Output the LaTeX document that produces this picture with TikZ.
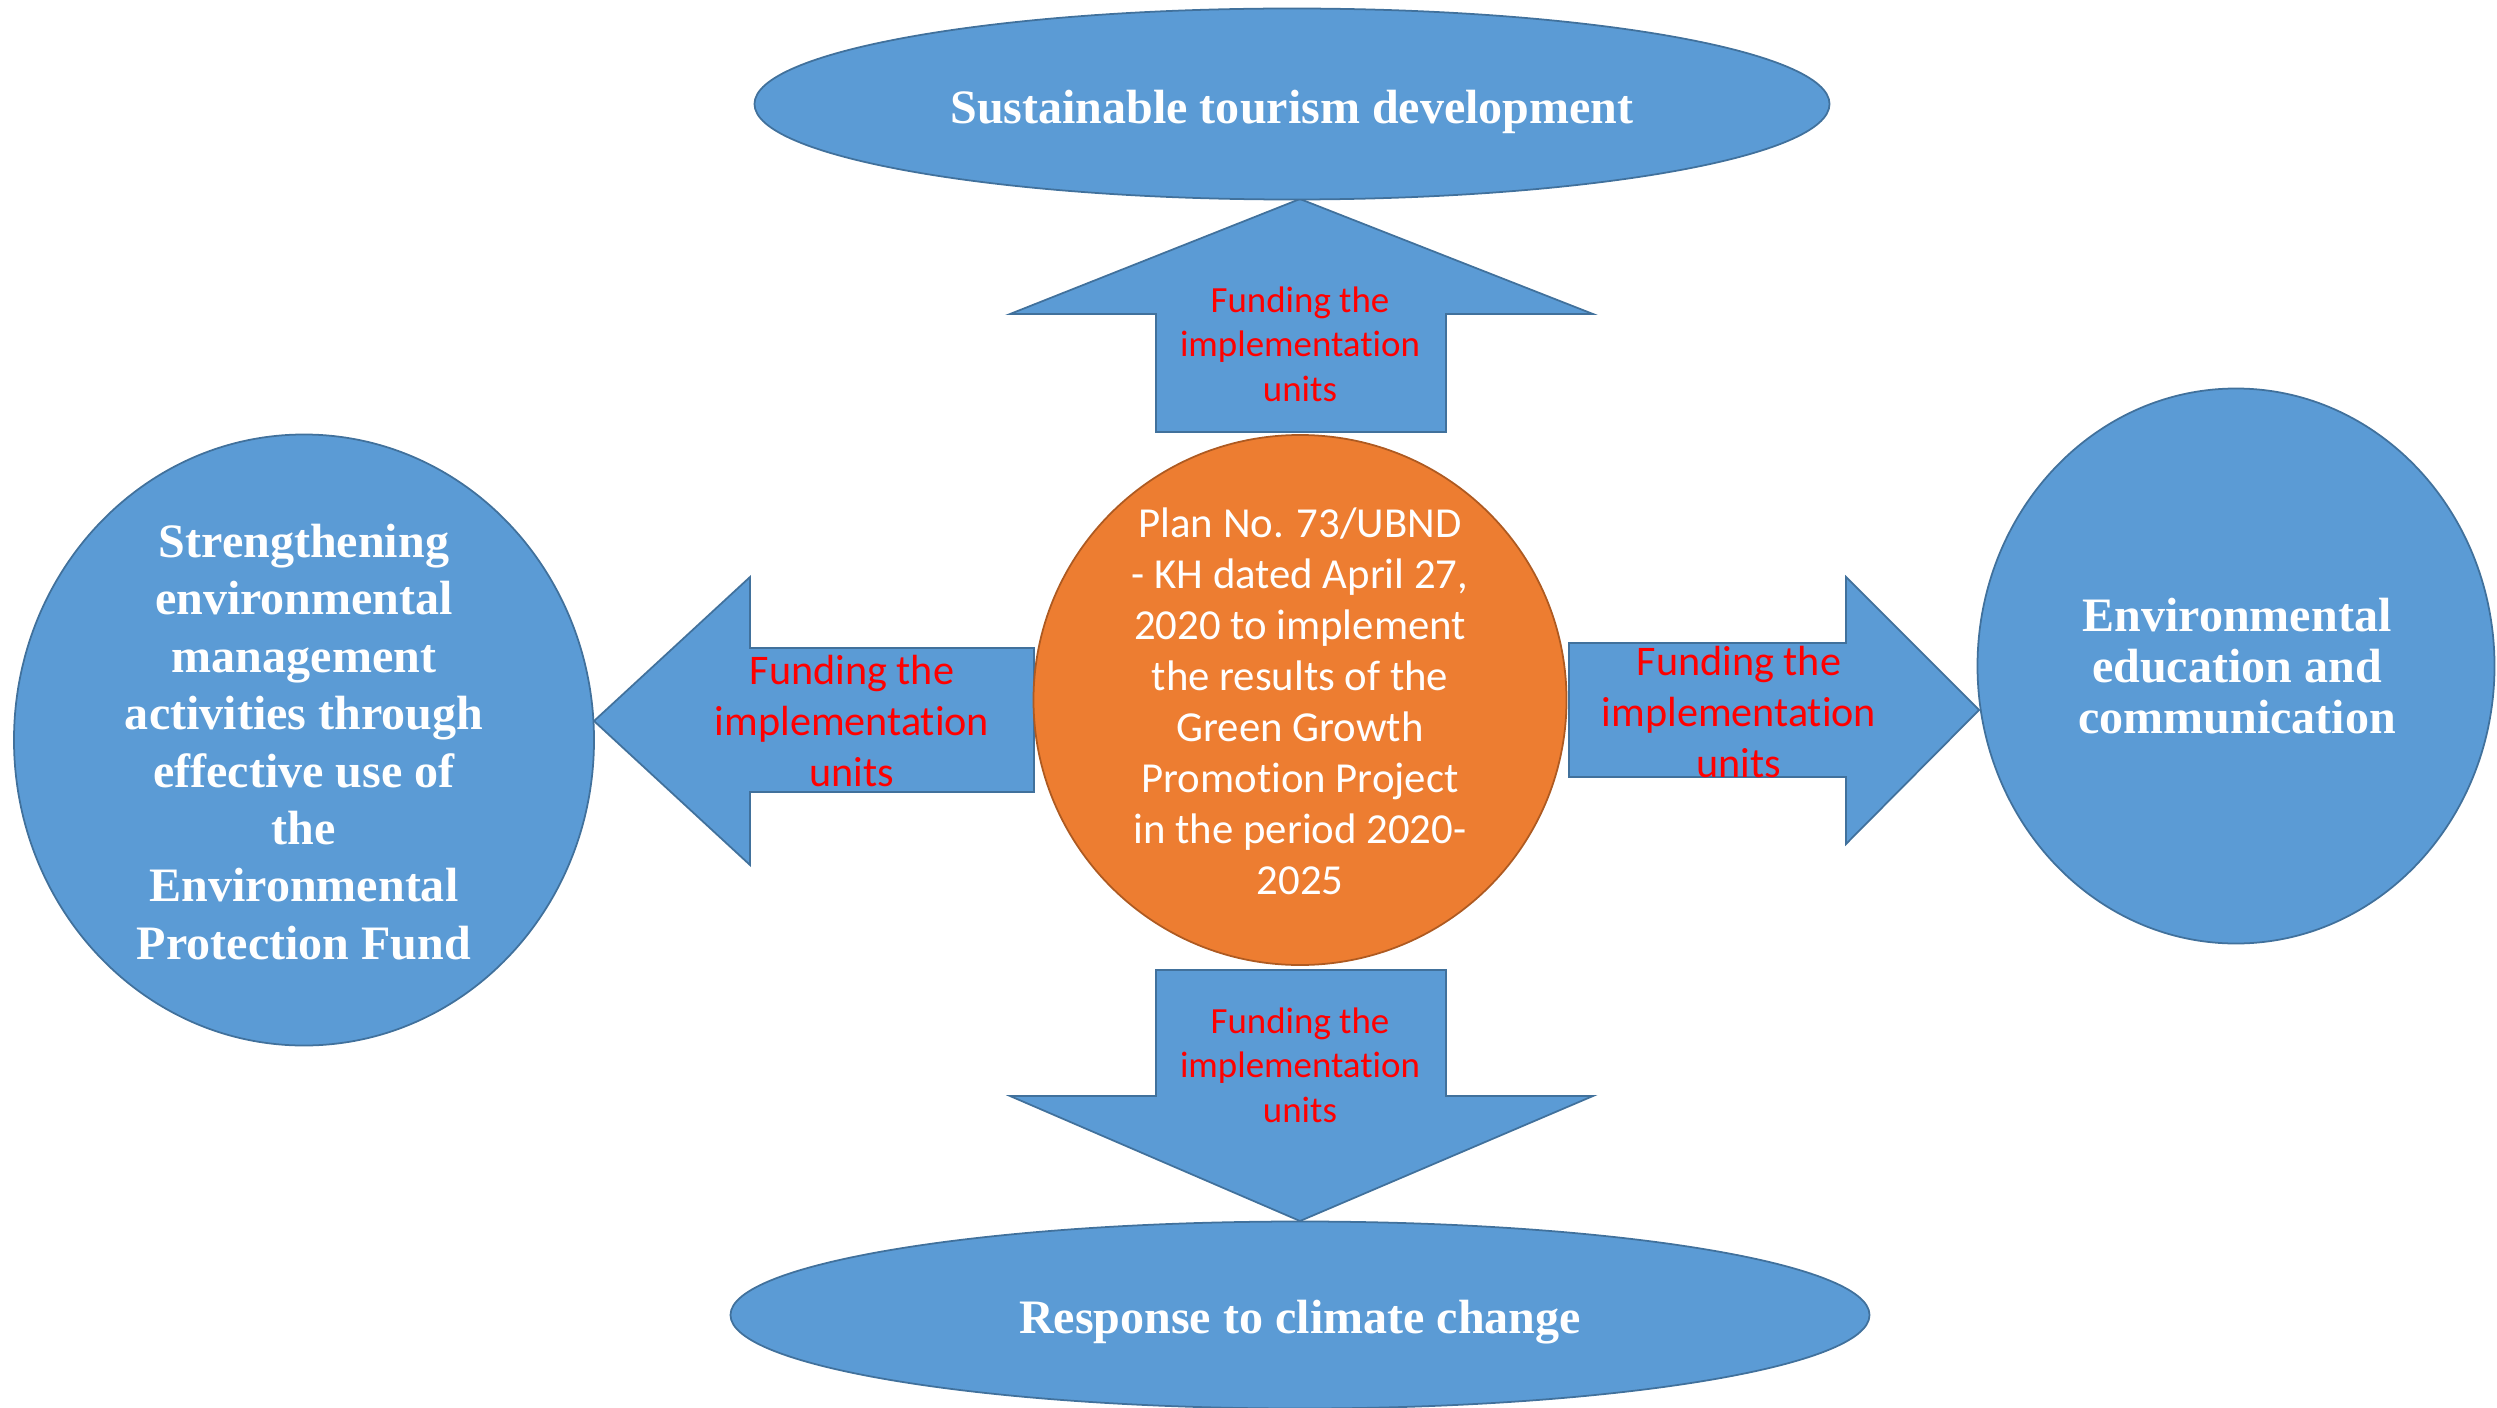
\documentclass[tikz,border=0pt]{standalone}
\usepackage{fontspec}
\setmainfont{Liberation Serif}
\newfontfamily\calibri[Ligatures=NoCommon]{Carlito}
\usetikzlibrary{shapes.geometric}
\definecolor{bfill}{HTML}{5B9BD5}
\definecolor{bline}{HTML}{41719C}
\definecolor{ofill}{HTML}{ED7D31}
\definecolor{oline}{HTML}{AE5A21}
\definecolor{redtxt}{HTML}{FF0000}
\begin{document}
\begin{tikzpicture}[x=0.03cm,y=-0.03cm,
  blueshape/.style={fill=bfill,draw=bline,line width=1.5pt,line join=miter},
  orangeshape/.style={fill=ofill,draw=oline,line width=1.5pt},
  bigtxt/.style={text=white,font=\fontsize{41}{49}\selectfont\bfseries,align=center,inner sep=0pt},
  fundtxt/.style={text=redtxt,font=\calibri\fontsize{36}{43.5}\selectfont,align=center,inner sep=0pt},
  fundsmall/.style={text=redtxt,font=\calibri\fontsize{31.5}{38}\selectfont,align=center,inner sep=0pt},
  centtxt/.style={text=white,font=\calibri\fontsize{36.5}{43.5}\selectfont,align=center,inner sep=0pt}]
\useasboundingbox (0,0) rectangle (2497,1408);
% block arrows
\draw[blueshape] (1156,432) -- (1156,314) -- (1010,314) -- (1300,199) -- (1593,314) -- (1446,314) -- (1446,432) -- cycle;
\draw[blueshape] (1156,970) -- (1446,970) -- (1446,1096) -- (1593,1096) -- (1300,1221) -- (1010,1096) -- (1156,1096) -- cycle;
\draw[blueshape] (1034,648) -- (750,648) -- (750,577) -- (594,721) -- (750,865) -- (750,792) -- (1034,792) -- cycle;
\draw[blueshape] (1569,643) -- (1846,643) -- (1846,577) -- (1979,710) -- (1846,844) -- (1846,777) -- (1569,777) -- cycle;
% shapes
\node[blueshape,ellipse,minimum width=32.25cm,minimum height=5.73cm,inner sep=0pt] (top) at (1292,104) {};
\node[blueshape,ellipse,minimum width=34.17cm,minimum height=5.61cm,inner sep=0pt] (bot) at (1300,1315) {};
\node[blueshape,ellipse,minimum width=17.4cm,minimum height=18.33cm,inner sep=0pt] (left) at (304,740) {};
\node[blueshape,ellipse,minimum width=15.51cm,minimum height=16.65cm,inner sep=0pt] (right) at (2236,666) {};
\node[orangeshape,ellipse,minimum width=15.99cm,minimum height=15.9cm,inner sep=0pt] (cent) at (1300,700) {};
% texts
\node[bigtxt] (toptxt) at (1292,112) {Sustainable tourism development};
\node[bigtxt] (bottxt) at (1300,1322) {Response to climate change};
\node[bigtxt] (lefttxt) at (304,742) {Strengthening\\environmental\\management\\activities through\\effective use of\\the\\Environmental\\Protection Fund};
\node[bigtxt,font=\fontsize{41}{43.5}\selectfont\bfseries] (righttxt) at (2237,666) {Environmental\\education and\\communication};
\node[centtxt] (centtxt) at (1300,701) {Plan No. 73/UBND\\- KH dated April 27,\\2020 to implement\\the results of the\\Green Growth\\Promotion Project\\in the period 2020-\\2025};
\node[fundsmall] (ftop) at (1300,344) {Funding the\\implementation\\units};
\node[fundsmall] (fbot) at (1300,1065) {Funding the\\implementation\\units};
\node[fundtxt] (fleft) at (852,721) {Funding the\\implementation\\units};
\node[fundtxt] (fright) at (1739,712) {Funding the\\implementation\\units};
\end{tikzpicture}
\end{document}
